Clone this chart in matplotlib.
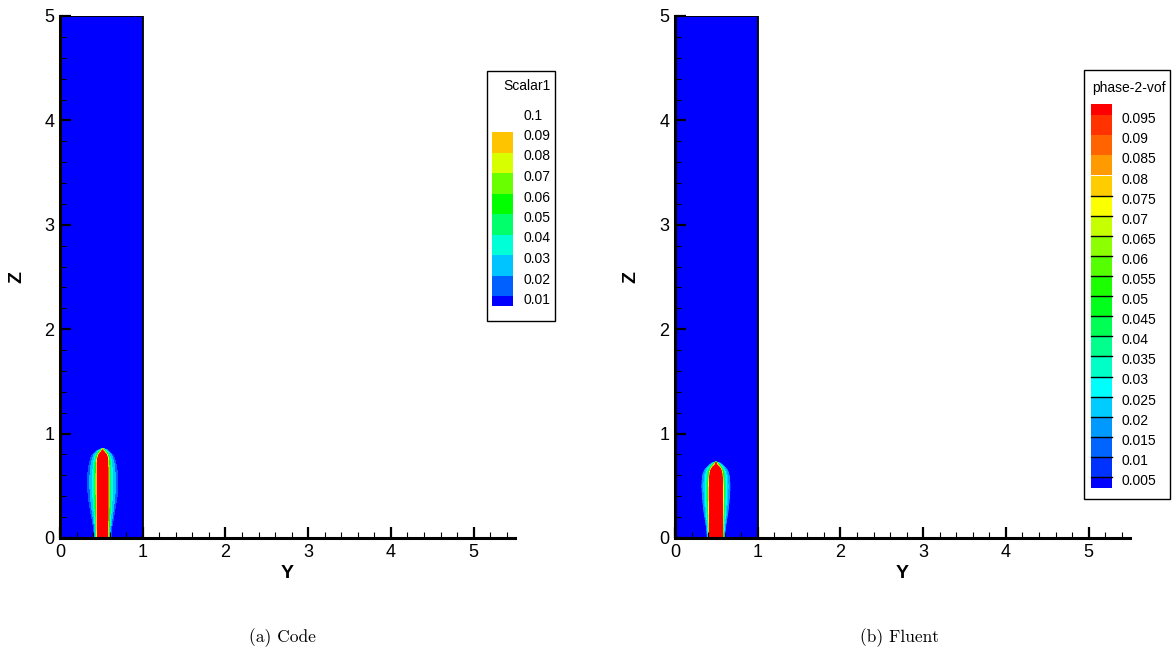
import numpy as np
import matplotlib
matplotlib.use("Agg")
import matplotlib.pyplot as plt
import matplotlib.patches as patches
from matplotlib.colors import LinearSegmentedColormap
from matplotlib.ticker import MultipleLocator

plt.rcParams['font.family'] = ['Liberation Sans', 'DejaVu Sans']

W, H = 1173, 656

# contour levels of the two runs
code_levels = [0.01, 0.02, 0.03, 0.04, 0.05, 0.06, 0.07, 0.08, 0.09, 0.1]
fluent_levels = [0.005, 0.01, 0.015, 0.02, 0.025, 0.03, 0.035, 0.04, 0.045, 0.05,
                 0.055, 0.06, 0.065, 0.07, 0.075, 0.08, 0.085, 0.09, 0.095]
code_labels = ["0.01", "0.02", "0.03", "0.04", "0.05", "0.06", "0.07", "0.08", "0.09", "0.1"]
fluent_labels = ["0.005", "0.01", "0.015", "0.02", "0.025", "0.03", "0.035", "0.04", "0.045", "0.05",
                 "0.055", "0.06", "0.065", "0.07", "0.075", "0.08", "0.085", "0.09", "0.095"]

# plume shape: heights and half widths of the 0.1 / 0.05 / outer contours
code_center = 0.515
code_z = [0.0, 0.1, 0.25, 0.4, 0.55, 0.65, 0.72, 0.77, 0.80, 0.82, 0.84, 0.86]
code_core = [0.062, 0.062, 0.062, 0.063, 0.063, 0.062, 0.06, 0.055, 0.04, 0.015, 0.0, 0.0]
code_mid = [0.075, 0.077, 0.08, 0.084, 0.085, 0.084, 0.08, 0.074, 0.062, 0.045, 0.022, 0.0]
code_outer = [0.10, 0.105, 0.14, 0.17, 0.18, 0.17, 0.155, 0.135, 0.115, 0.09, 0.06, 0.0]

fluent_center = 0.495
fluent_z = [0.0, 0.1, 0.25, 0.4, 0.5, 0.58, 0.63, 0.66, 0.68, 0.70, 0.72, 0.73]
fluent_core = [0.075, 0.075, 0.076, 0.077, 0.076, 0.072, 0.065, 0.05, 0.03, 0.0, 0.0, 0.0]
fluent_mid = [0.086, 0.087, 0.09, 0.092, 0.092, 0.088, 0.081, 0.068, 0.054, 0.036, 0.013, 0.0]
fluent_outer = [0.10, 0.11, 0.14, 0.16, 0.165, 0.16, 0.145, 0.125, 0.10, 0.075, 0.04, 0.0]

cmap = LinearSegmentedColormap.from_list(
    "tec", [(0, '#0000ff'), (0.26, '#00ffff'), (0.5, '#00ff00'), (0.74, '#ffff00'), (1, '#ff0000')])


def field(yc, zs, core, mid, outer):
    y = np.linspace(0, 1, 301)
    z = np.linspace(0, 5, 1201)
    Y, Z = np.meshgrid(y, z)
    d = np.abs(Y - yc)
    c = np.interp(Z, zs, core, right=0)
    m = np.maximum(np.interp(Z, zs, mid, right=0), c + 1e-4)
    o = np.maximum(np.interp(Z, zs, outer, right=0), m + 1e-4)
    t = np.clip((d - m) / (o - m), 0, 1)
    v = np.clip(0.018 - 0.018 * (d - o) / 0.01, 0, None)
    v = np.where(d <= o, 0.018 + 0.032 * (1 - t) ** 2, v)
    v = np.where(d <= m, 0.1 - 0.05 * (d - c) / (m - c), v)
    v = np.where(d <= c, 0.1 + (c - d) * 2, v)
    v = np.where(Z > zs[-1], 0, v)
    return Y, Z, v


def panel(fig, x0, Y, Z, v, levels):
    ax = fig.add_axes([x0 / W, (H - 538) / H, 455 / W, 522 / H])
    bounds = [-1] + levels + [10]
    cols = [cmap(i / len(levels)) for i in range(len(levels) + 1)]
    ax.contourf(Y, Z, v, levels=bounds, colors=cols, antialiased=False)
    ax.add_patch(patches.Rectangle((0, 0), 1, 5, fill=False, lw=1.3, ec='black'))
    ax.set_xlim(0, 5.5)
    ax.set_ylim(0, 5)
    for s in ['top', 'right']:
        ax.spines[s].set_visible(False)
    for s in ['left', 'bottom']:
        ax.spines[s].set_linewidth(2.2)
    ax.xaxis.set_major_locator(MultipleLocator(1))
    ax.xaxis.set_minor_locator(MultipleLocator(0.2))
    ax.yaxis.set_major_locator(MultipleLocator(1))
    ax.yaxis.set_minor_locator(MultipleLocator(0.2))
    ax.tick_params(which='major', direction='in', length=8, width=1.6, labelsize=13, pad=4)
    ax.tick_params(which='minor', direction='in', length=4.3, width=0.8)
    ax.set_xlabel("Y", fontsize=14, fontweight='bold', labelpad=3)
    ax.set_ylabel("Z", fontsize=14, fontweight='bold', labelpad=14)
    return cols


def legend(fig, box, title, title_x, title_y, levels, labels, cols, y_low, step,
           bot_y, top_band, label_x, blk, line_max=None):
    x0, y0, x1, y1 = box
    ax = fig.add_axes([0, 0, 1, 1], facecolor='none')
    ax.set_xlim(0, W)
    ax.set_ylim(H, 0)
    ax.axis('off')
    ax.add_patch(patches.Rectangle((x0, y0), x1 - x0, y1 - y0, fill=False, lw=1, ec='black'))
    ax.text(title_x, title_y, title, fontsize=10, va='center', ha='left')
    ys = [y_low - i * step for i in range(len(levels))]
    # band below first level
    ax.add_patch(patches.Rectangle((blk[0], ys[0]), blk[1] - blk[0], bot_y - ys[0], fc=cols[0], lw=0))
    for i in range(len(levels) - 1):
        ax.add_patch(patches.Rectangle((blk[0], ys[i + 1]), blk[1] - blk[0], step, fc=cols[i + 1], lw=0))
    if top_band is not None:
        ax.add_patch(patches.Rectangle((blk[0], top_band), blk[1] - blk[0], ys[-1] - top_band,
                                       fc=cols[len(levels)], lw=0))
    for i, lab in enumerate(labels):
        yy = y_low - i * step
        ax.text(label_x, yy + 4, lab, fontsize=10, va='center', ha='left')
    if line_max is not None:
        for lv, yy in zip(levels, ys):
            if lv <= line_max + 1e-9:
                ax.plot([blk[0], blk[1]], [yy, yy], color='black', lw=1)


fig = plt.figure(figsize=(W / 100, H / 100), dpi=100)

Yc, Zc, vc = field(code_center, code_z, code_core, code_mid, code_outer)
cols_c = panel(fig, 60, Yc, Zc, vc, code_levels)
Yf, Zf, vf = field(fluent_center, fluent_z, fluent_core, fluent_mid, fluent_outer)
cols_f = panel(fig, 675, Yf, Zf, vf, fluent_levels)

legend(fig, (487, 71, 555, 321), "Scalar1", 503, 86, code_levels[:-1], code_labels,
       cols_c, 296, 20.5, 306, None, 523, (492, 513))
legend(fig, (1084, 70, 1170, 499), "phase-2-vof", 1092, 88, fluent_levels, fluent_labels,
       cols_f, 477, 20.1, 488, 104, 1121, (1091, 1112), line_max=0.075)

fig.text(282 / W, 1 - 638 / H, "(a) Code", fontsize=12.5, family='cmr10', ha='center', va='center')
fig.text(900 / W, 1 - 638 / H, "(b) Fluent", fontsize=12.5, family='cmr10', ha='center', va='center')

fig.savefig("out.png", dpi=100)
